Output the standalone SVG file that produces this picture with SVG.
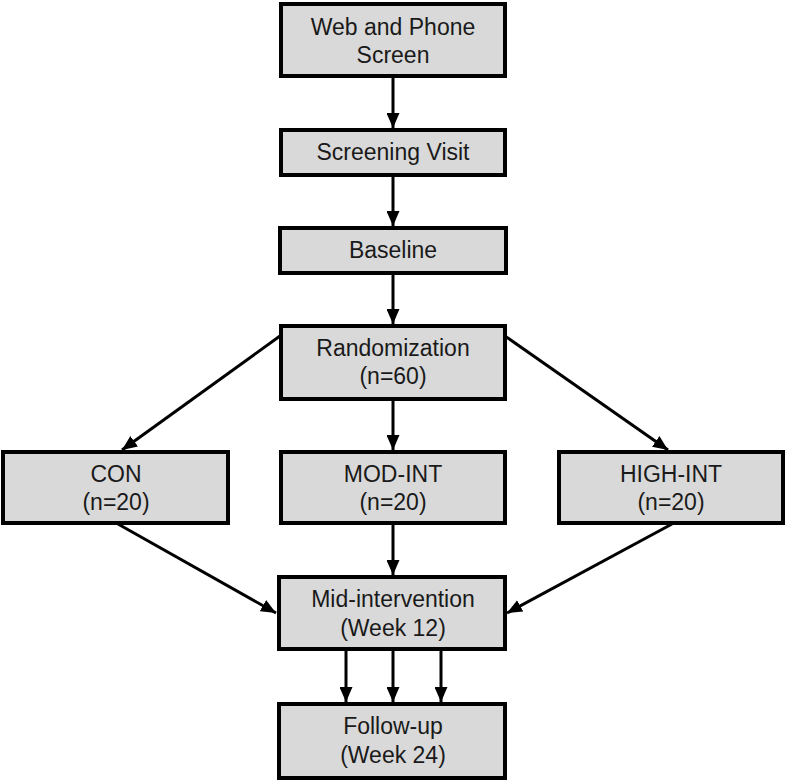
<svg xmlns="http://www.w3.org/2000/svg" width="787" height="781" viewBox="0 0 787 781">
<style>
.box{fill:#d9d9d9;stroke:#000;stroke-width:4}
.t{font-family:"Liberation Sans",Arial,sans-serif;font-size:23px;fill:#1a1a1a;text-anchor:middle}
.c{stroke:#000;stroke-width:3;fill:none;marker-end:url(#ah)}
</style>
<defs>
<marker id="ah" markerUnits="userSpaceOnUse" markerWidth="15" markerHeight="13" refX="15" refY="6.5" orient="auto">
<path d="M0,0 L15,6.5 L0,13 Z" fill="#000"/>
</marker>
</defs>
<rect width="787" height="781" fill="#fff"/>
<g id="connectors">
<line class="c" x1="393" y1="77" x2="393" y2="128"/>
<line class="c" x1="393" y1="176" x2="393" y2="226"/>
<line class="c" x1="393" y1="274" x2="393" y2="324"/>
<line class="c" x1="280" y1="336" x2="122" y2="450"/>
<line class="c" x1="393" y1="400" x2="393" y2="450"/>
<line class="c" x1="505" y1="336" x2="668" y2="450"/>
<line class="c" x1="118" y1="524" x2="276" y2="613"/>
<line class="c" x1="393" y1="524" x2="393" y2="575"/>
<line class="c" x1="672" y1="524" x2="507" y2="613"/>
<line class="c" x1="346" y1="650" x2="346" y2="702"/>
<line class="c" x1="393" y1="650" x2="393" y2="702"/>
<line class="c" x1="441" y1="650" x2="441" y2="702"/>
</g>
<g id="web"><rect class="box" x="281" y="4" width="224" height="72"/>
<text class="t" x="393" y="35">Web and Phone</text><text class="t" x="393" y="63">Screen</text></g>
<g id="screening"><rect class="box" x="281" y="130" width="224" height="45"/>
<text class="t" x="393" y="160">Screening Visit</text></g>
<g id="baseline"><rect class="box" x="280" y="228" width="226" height="45"/>
<text class="t" x="393" y="258">Baseline</text></g>
<g id="randomization"><rect class="box" x="281" y="326" width="224" height="73"/>
<text class="t" x="393" y="356">Randomization</text><text class="t" x="393" y="384">(n=60)</text></g>
<g id="con"><rect class="box" x="3" y="452" width="225" height="71"/>
<text class="t" x="116" y="482">CON</text><text class="t" x="116" y="510">(n=20)</text></g>
<g id="modint"><rect class="box" x="281" y="452" width="224" height="71"/>
<text class="t" x="393" y="482">MOD-INT</text><text class="t" x="393" y="510">(n=20)</text></g>
<g id="highint"><rect class="box" x="559" y="452" width="224" height="71"/>
<text class="t" x="671" y="482">HIGH-INT</text><text class="t" x="671" y="510">(n=20)</text></g>
<g id="mid"><rect class="box" x="279" y="577" width="226" height="72"/>
<text class="t" x="393" y="607">Mid-intervention</text><text class="t" x="393" y="636">(Week 12)</text></g>
<g id="followup"><rect class="box" x="279" y="704" width="226" height="74"/>
<text class="t" x="393" y="734">Follow-up</text><text class="t" x="393" y="763">(Week 24)</text></g>
</svg>
